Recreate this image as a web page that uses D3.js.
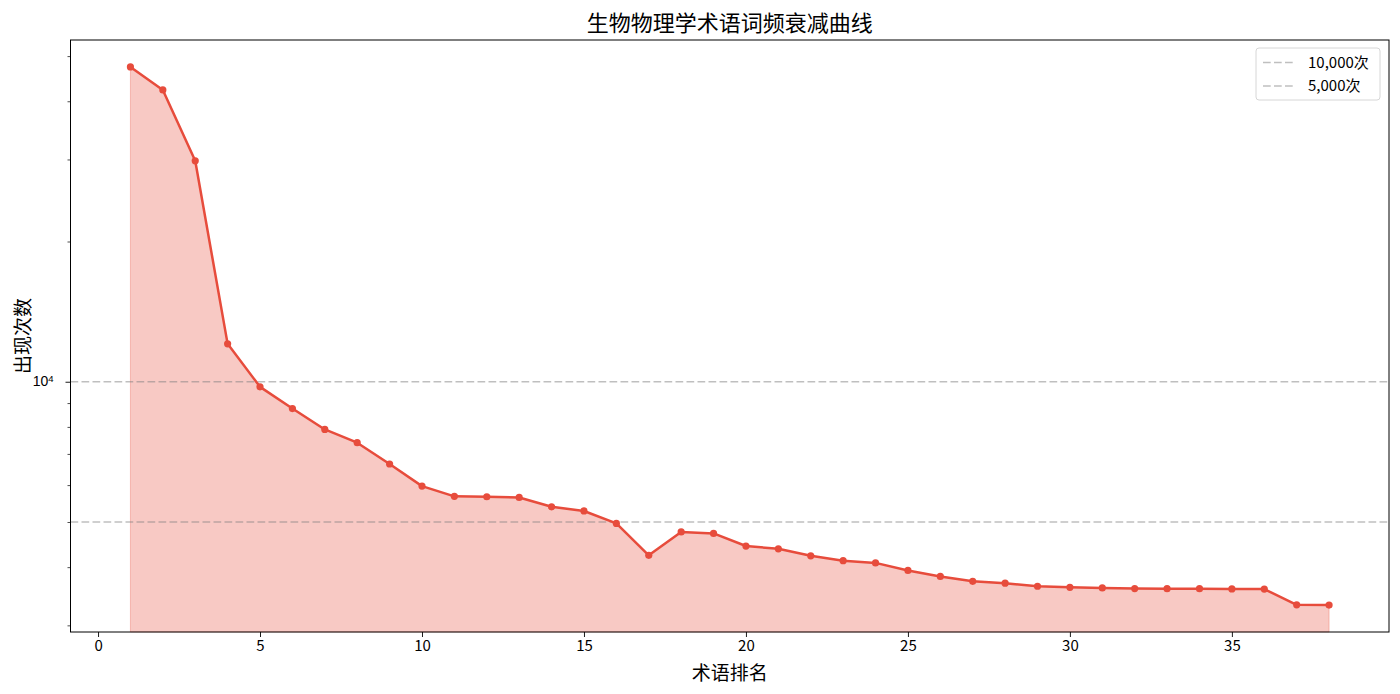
<!DOCTYPE html>
<html>
<head>
<meta charset="utf-8">
<script src="https://cdn.jsdelivr.net/npm/d3@7"></script>
<style>
  body { margin: 0; background: #fff; }
  text { font-family: "Noto Sans CJK SC", "DejaVu Sans", sans-serif; fill: #000; }
</style>
</head>
<body>
<div id="chart"></div>
<script>
// data: rank -> occurrence count
const ranks = d3.range(1, 39);
const counts = [
  47400, 42300, 29800, 12060, 9750, 8760, 7900, 7400, 6660, 5970,
  5675, 5665, 5645, 5390, 5280, 4965, 4240, 4760, 4725, 4440,
  4380, 4230, 4130, 4085, 3935, 3820, 3730, 3695, 3640, 3620,
  3610, 3598, 3597, 3597, 3591, 3590, 3320, 3316
];
const refLines = [10000, 5000];
const refLabels = ['10,000次', '5,000次'];
const xTicks = [0, 5, 10, 15, 20, 25, 30, 35];

const color = '#e74c3c';

//dimensions
const width = 1400, height = 694;
const margin = { top: 40, right: 11, bottom: 62, left: 70.5 };
const graphWidth = width - margin.left - margin.right;
const graphHeight = height - margin.top - margin.bottom;

const svg = d3.select('#chart')
  .append('svg')
  .attr('width', width)
  .attr('height', height);

const graph = svg.append('g')
  .attr('transform', `translate(${margin.left}, ${margin.top})`);

// scales (matplotlib style 5% margins, log in y)
const xPad = (d3.max(ranks) - d3.min(ranks)) * 0.05;
const x = d3.scaleLinear()
  .domain([d3.min(ranks) - xPad, d3.max(ranks) + xPad])
  .range([0, graphWidth]);

const lmin = Math.log10(d3.min(counts)), lmax = Math.log10(d3.max(counts));
const yPad = (lmax - lmin) * 0.05;
const y = d3.scaleLog()
  .domain([Math.pow(10, lmin - yPad), Math.pow(10, lmax + yPad)])
  .range([graphHeight, 0]);

const pts = ranks.map((r, i) => ({ r: r, v: counts[i] }));

// filled area down to the axis bottom
const area = d3.area()
  .x(d => x(d.r))
  .y0(graphHeight)
  .y1(d => y(d.v));

graph.append('path')
  .datum(pts)
  .attr('d', area)
  .attr('fill', color)
  .attr('fill-opacity', 0.3)
  .attr('stroke', color)
  .attr('stroke-opacity', 0.3)
  .attr('stroke-width', 1);

// reference lines
graph.selectAll('.ref')
  .data(refLines)
  .enter().append('line')
  .attr('class', 'ref')
  .attr('x1', 0).attr('x2', graphWidth)
  .attr('y1', d => y(d)).attr('y2', d => y(d))
  .attr('stroke', '#808080')
  .attr('stroke-opacity', 0.5)
  .attr('stroke-width', 1.5)
  .attr('stroke-dasharray', '7.7,3.3');

// line + markers
const line = d3.line()
  .x(d => x(d.r))
  .y(d => y(d.v));

graph.append('path')
  .datum(pts)
  .attr('d', line)
  .attr('fill', 'none')
  .attr('stroke', color)
  .attr('stroke-width', 2.5)
  .attr('stroke-linejoin', 'round');

graph.selectAll('.dot')
  .data(pts)
  .enter().append('circle')
  .attr('class', 'dot')
  .attr('cx', d => x(d.r))
  .attr('cy', d => y(d.v))
  .attr('r', 3.6)
  .attr('fill', color);

// axes
const xAxis = d3.axisBottom(x)
  .tickValues(xTicks)
  .tickSize(5)
  .tickPadding(3);

const xAxisGroup = graph.append('g')
  .attr('transform', `translate(0, ${graphHeight})`)
  .call(xAxis);
xAxisGroup.select('.domain').remove();
xAxisGroup.selectAll('text').attr('font-size', 15).style('font-family', '"Noto Sans CJK SC", sans-serif');
xAxisGroup.selectAll('line').attr('stroke', '#000').attr('stroke-width', 0.9);

// y: one major tick (10^4) and minor ticks
const yMinor = y.ticks().filter(t => Math.log10(t) % 1 !== 0);
const yMajor = y.ticks().filter(t => Math.log10(t) % 1 === 0);

const yMinorGroup = graph.append('g')
  .call(d3.axisLeft(y).tickValues(yMinor).tickSize(3).tickFormat(''));
yMinorGroup.select('.domain').remove();
yMinorGroup.selectAll('line').attr('stroke', '#000').attr('stroke-width', 0.7);

const yMajorGroup = graph.append('g')
  .call(d3.axisLeft(y).tickValues(yMajor).tickSize(5).tickFormat(''));
yMajorGroup.select('.domain').remove();
yMajorGroup.selectAll('line').attr('stroke', '#000').attr('stroke-width', 0.9);

yMajorGroup.selectAll('.tick').each(function(d) {
  const t = d3.select(this).append('text')
    .attr('x', -17)
    .attr('dy', '0.3em')
    .attr('text-anchor', 'end')
    .attr('font-size', 14)
    .style('font-family', '"Liberation Sans", sans-serif')
    .style('fill', '#000');
  t.append('tspan').text('10');
  t.append('tspan').attr('dy', '-0.5em').attr('font-size', 9.5).text(Math.round(Math.log10(d)));
});

// frame
graph.append('rect')
  .attr('width', graphWidth)
  .attr('height', graphHeight)
  .attr('fill', 'none')
  .attr('stroke', '#000')
  .attr('stroke-width', 1);

// titles
svg.append('text')
  .attr('x', margin.left + graphWidth / 2)
  .attr('y', 31)
  .attr('text-anchor', 'middle')
  .attr('font-size', 22)
  .text('生物物理学术语词频衰减曲线');

svg.append('text')
  .attr('x', margin.left + graphWidth / 2)
  .attr('y', 680)
  .attr('text-anchor', 'middle')
  .attr('font-size', 19)
  .text('术语排名');

svg.append('text')
  .attr('transform', `translate(30, ${margin.top + graphHeight / 2}) rotate(-90)`)
  .attr('text-anchor', 'middle')
  .attr('font-size', 19)
  .text('出现次数');

// legend
const legend = graph.append('g')
  .attr('transform', `translate(${graphWidth - 133}, 8)`);

legend.append('rect')
  .attr('width', 124)
  .attr('height', 52)
  .attr('rx', 3)
  .attr('fill', '#fff')
  .attr('fill-opacity', 0.8)
  .attr('stroke', '#d6d6d6')
  .attr('stroke-width', 1);

refLabels.forEach((lab, i) => {
  const ly = 14.5 + i * 23.5;
  legend.append('line')
    .attr('x1', 7).attr('x2', 39)
    .attr('y1', ly).attr('y2', ly)
    .attr('stroke', '#808080')
    .attr('stroke-opacity', 0.5)
    .attr('stroke-width', 1.5)
    .attr('stroke-dasharray', '7.7,3.3');
  legend.append('text')
    .attr('x', 52)
    .attr('y', ly)
    .attr('dy', '0.35em')
    .attr('font-size', 15)
    .text(lab);
});
</script>
</body>
</html>
